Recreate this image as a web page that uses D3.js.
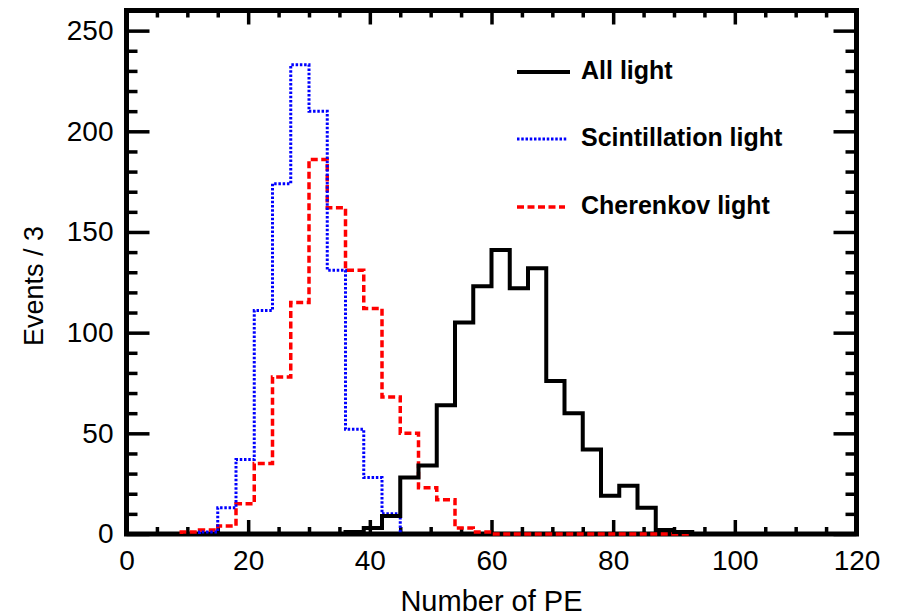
<!DOCTYPE html>
<html>
<head>
<meta charset="utf-8">
<script src="https://cdn.jsdelivr.net/npm/d3@7"></script>
<style>
  body { margin: 0; background: #fff; }
  svg { font-family: "Liberation Sans", Arial, sans-serif; }
</style>
</head>
<body>
<svg width="902" height="616"></svg>
<script>
// bin width 3, each series starts at its first non-empty bin edge
var binWidth = 3

var allStart = 36
var allLight = [1, 3, 9, 28, 34, 64, 105, 123, 141, 122, 132, 76, 60, 42, 19, 24, 13, 2, 1]

var scintStart = 12
var scintLight = [1, 13, 37, 111, 174, 233, 210, 131, 52, 28, 10]

var cherStart = 9
var cherLight = [1, 2, 4, 15, 35, 78, 115, 186, 162, 131, 112, 68, 50, 23, 17, 3, 1, 0, 0, 0, 0, 0, 0, 0, 0, 0, 0, 0]

var xTicks = [0, 20, 40, 60, 80, 100, 120]
var yTicks = [0, 50, 100, 150, 200, 250]

var legendNames = ["All light", "Scintillation light", "Cherenkov light"]

var svg = d3.select("svg")

var plot = {left: 126.5, right: 856.5, top: 10.5, bottom: 534}

var xScale = d3.scaleLinear().domain([0, 120]).range([plot.left, plot.right])
var yScale = d3.scaleLinear().domain([0, 260]).range([plot.bottom, plot.top])

var minorX = d3.range(0, 121, 5).filter(function(d){return d % 20 != 0;})
var minorY = d3.range(0, 261, 10).filter(function(d){return d % 50 != 0;})

function styleAxis(g)
{
  g.attr("font-size", 28).attr("font-family", null)
  g.select(".domain").remove()
  g.selectAll(".tick line").attr("stroke", "#000").attr("stroke-width", 3.5)
  g.selectAll(".tick text").attr("fill", "#000")
}

// bottom axis, major and minor ticks pointing inward
svg.append("g")
   .attr("transform", "translate(0," + plot.bottom + ")")
   .call(d3.axisBottom(xScale).tickValues(xTicks).tickSize(-14).tickPadding(16))
   .call(styleAxis)
svg.append("g")
   .attr("transform", "translate(0," + plot.bottom + ")")
   .call(d3.axisBottom(xScale).tickValues(minorX).tickSize(-7).tickFormat(""))
   .call(styleAxis)

// top axis
svg.append("g")
   .attr("transform", "translate(0," + plot.top + ")")
   .call(d3.axisTop(xScale).tickValues(xTicks).tickSize(-14).tickFormat(""))
   .call(styleAxis)
svg.append("g")
   .attr("transform", "translate(0," + plot.top + ")")
   .call(d3.axisTop(xScale).tickValues(minorX).tickSize(-7).tickFormat(""))
   .call(styleAxis)

// left axis
svg.append("g")
   .attr("transform", "translate(" + plot.left + ",0)")
   .call(d3.axisLeft(yScale).tickValues(yTicks).tickSize(-23).tickPadding(13))
   .call(styleAxis)
svg.append("g")
   .attr("transform", "translate(" + plot.left + ",0)")
   .call(d3.axisLeft(yScale).tickValues(minorY).tickSize(-11).tickFormat(""))
   .call(styleAxis)

// right axis
svg.append("g")
   .attr("transform", "translate(" + plot.right + ",0)")
   .call(d3.axisRight(yScale).tickValues(yTicks).tickSize(-23).tickFormat(""))
   .call(styleAxis)
svg.append("g")
   .attr("transform", "translate(" + plot.right + ",0)")
   .call(d3.axisRight(yScale).tickValues(minorY).tickSize(-11).tickFormat(""))
   .call(styleAxis)

// frame
svg.append("rect")
   .attr("x", plot.left).attr("y", plot.top)
   .attr("width", plot.right - plot.left).attr("height", plot.bottom - plot.top)
   .attr("fill", "none").attr("stroke", "#000").attr("stroke-width", 5)

// histogram outlines
var line = d3.line()
             .x(function(d){return xScale(d[0]);})
             .y(function(d){return yScale(d[1]);})
             .curve(d3.curveStepAfter)

function steps(start, vals)
{
  var pts = [[start, 0]]
  vals.forEach(function(v, i){ pts.push([start + i * binWidth, v]); })
  pts.push([start + vals.length * binWidth, 0])
  return pts
}

var series = [
  {start: cherStart, vals: cherLight, color: "#ff0000", width: 3.5, dash: "7,3.5"},
  {start: scintStart, vals: scintLight, color: "#0000ff", width: 3, dash: "2.5,1.75"},
  {start: allStart, vals: allLight, color: "#000000", width: 4, dash: null}
]

svg.selectAll("path.hist")
   .data(series)
   .enter()
   .append("path")
   .attr("class", "hist")
   .attr("d", function(d){return line(steps(d.start, d.vals));})
   .attr("fill", "none")
   .attr("stroke", function(d){return d.color;})
   .attr("stroke-width", function(d){return d.width;})
   .attr("stroke-dasharray", function(d){return d.dash;})

// legend
var legendStyle = [
  {color: "#000000", width: 4, dash: null, y: 72, len: 53},
  {color: "#0000ff", width: 3, dash: "2.5,1.75", y: 139, len: 51},
  {color: "#ff0000", width: 3.5, dash: "7,3.5", y: 207, len: 48}
]

var leg = svg.selectAll("g.legend")
             .data(legendNames)
             .enter()
             .append("g")
             .attr("class", "legend")

leg.append("line")
   .attr("x1", 517)
   .attr("x2", function(d,i){return 517 + legendStyle[i].len;})
   .attr("y1", function(d,i){return legendStyle[i].y;})
   .attr("y2", function(d,i){return legendStyle[i].y;})
   .attr("stroke", function(d,i){return legendStyle[i].color;})
   .attr("stroke-width", function(d,i){return legendStyle[i].width;})
   .attr("stroke-dasharray", function(d,i){return legendStyle[i].dash;})

leg.append("text")
   .attr("x", 581)
   .attr("y", function(d,i){return legendStyle[i].y + 7;})
   .attr("font-size", 25)
   .attr("font-weight", "bold")
   .text(function(d){return d;})

// axis titles
svg.append("text")
   .attr("x", (plot.left + plot.right) / 2)
   .attr("y", 611)
   .attr("text-anchor", "middle")
   .attr("font-size", 29)
   .text("Number of PE")

svg.append("text")
   .attr("transform", "translate(43,286) rotate(-90)")
   .attr("text-anchor", "middle")
   .attr("font-size", 27)
   .text("Events / 3")
</script>
</body>
</html>
